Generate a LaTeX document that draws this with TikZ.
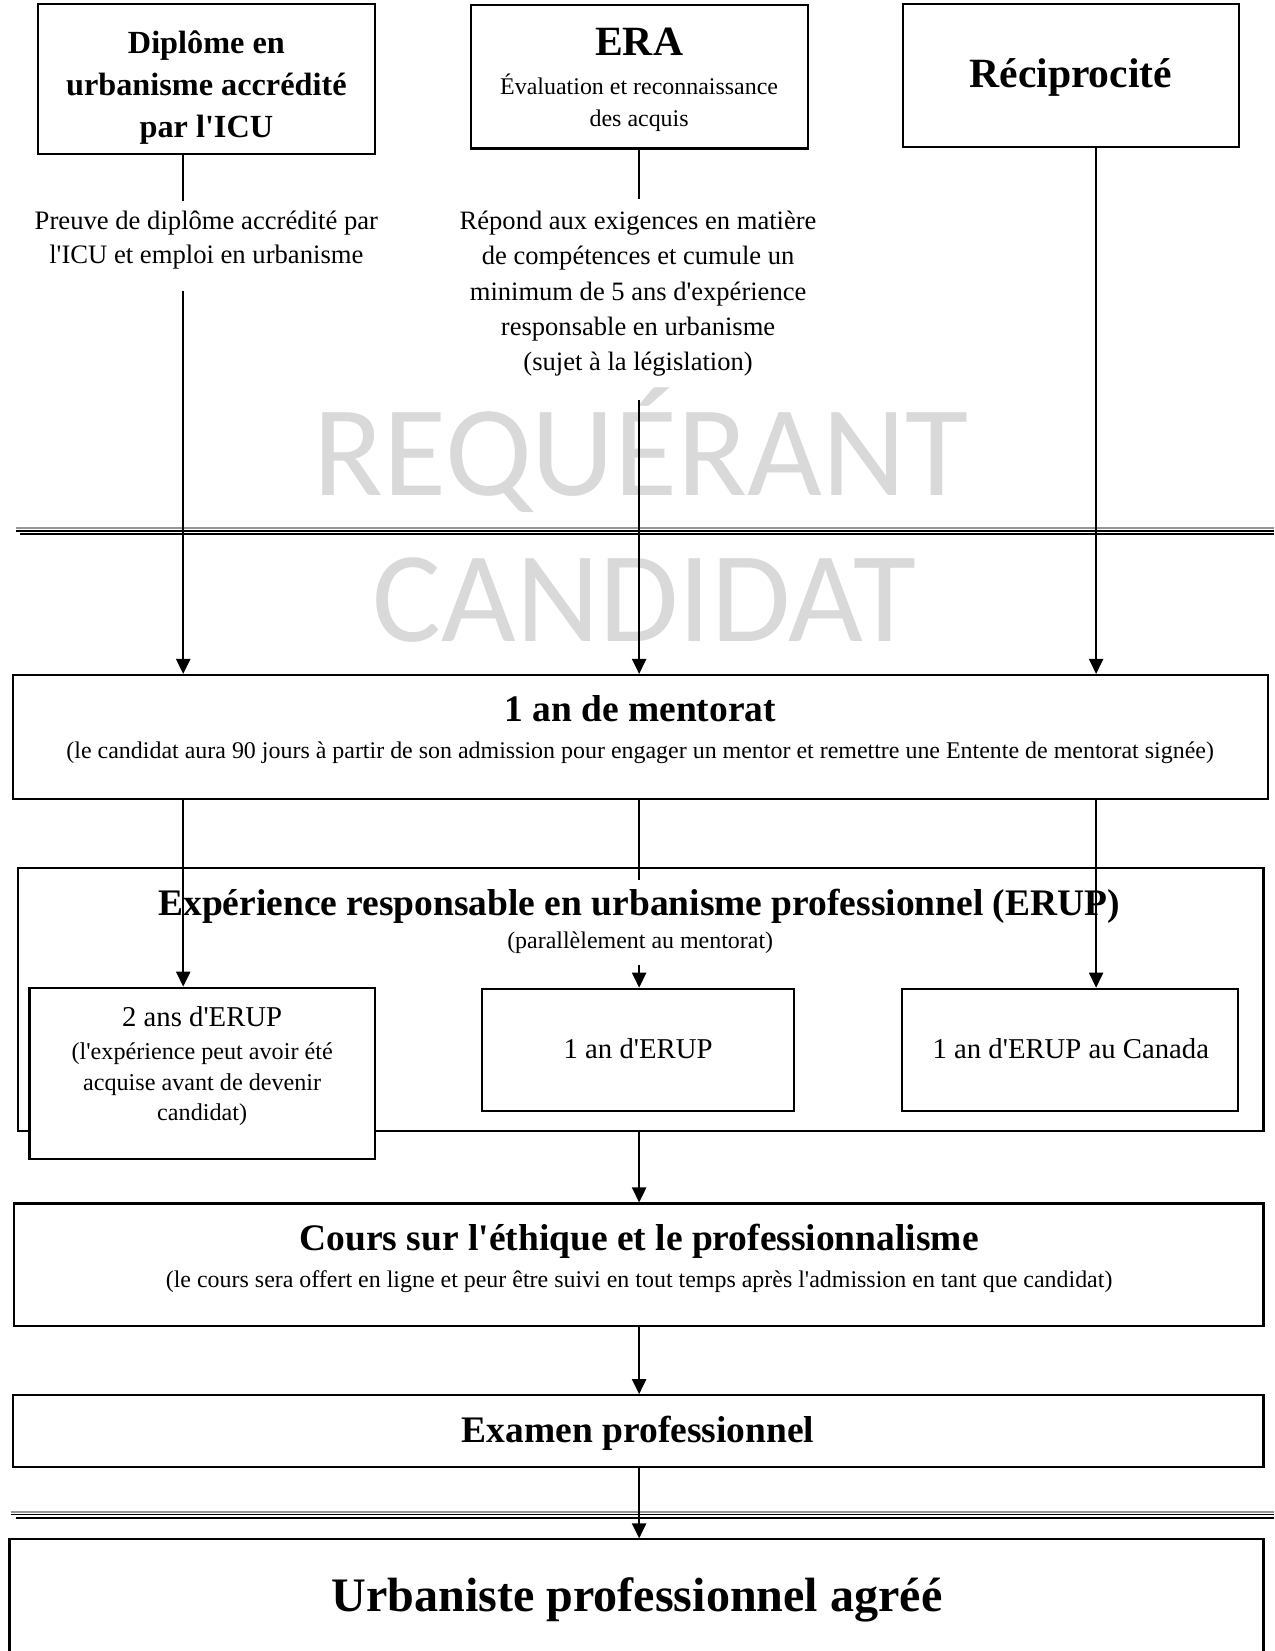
\documentclass[tikz,border=0pt]{standalone}
\usepackage{fontspec}
\setmainfont{Liberation Serif}[Ligatures=TeXOff]
\newfontfamily\wmfont{Carlito}
\usetikzlibrary{arrows.meta,fit}
\definecolor{wmgray}{RGB}{217,217,217}
\definecolor{sepgray}{RGB}{150,150,150}
\begin{document}
\begin{tikzpicture}[x=0.5058pt,y=-0.5058pt,
  box/.style={draw, line width=1pt, inner sep=0pt, fill=white},
  conn/.style={line width=0.9pt},
  arr/.style={conn, -{Triangle[length=7.2pt,width=6.8pt]}},
  txt/.style={inner sep=0pt, align=center},
  wm/.style={inner sep=0pt, anchor=base, text=wmgray, font=\wmfont\fontsize{62}{62}\selectfont},
  bigb/.style={txt, font=\fontsize{18}{21}\selectfont\bfseries},
  sub/.style={txt, font=\fontsize{11.5}{14}\selectfont},
]
\path[use as bounding box] (0,0) rectangle (1210,1568);
\clip (0,0) rectangle (1210,1568);
\fill[white] (0,0) rectangle (1210,1568);

% watermark
\node[wm] (wm1) at (609,471) {REQUÉRANT};
\node[wm] (wm2) at (612,609) {CANDIDAT};

% separators
\draw[sepgray, line width=1.1pt] (15,501.5) -- (1210,501.5);
\draw[line width=0.8pt] (15,504.3) -- (1210,504.3);
\draw[line width=0.8pt] (19,507.2) -- (1210,507.2);
\draw[sepgray, line width=1.1pt] (10,1436.3) -- (1210,1436.3);
\draw[line width=0.8pt] (10,1438.4) -- (1210,1438.4);
\draw[line width=0.8pt] (15,1441.6) -- (1210,1441.6);

% top boxes
\node[box, fit={(36,4)(356,146)}] (dip) {};
\node[txt, font=\fontsize{15.5}{20.2}\selectfont\bfseries] (diptxt) at (196,83) {Diplôme en\\urbanisme accrédité\\par l'ICU};
\node[box, fit={(447,5)(767,141)}] (era) {};
\node[txt, font=\fontsize{20}{22}\selectfont\bfseries] (eratitle) at (607,40) {ERA};
\node[txt, font=\fontsize{11.5}{15.2}\selectfont] (erasub) at (607,97.5) {Évaluation et reconnaissance\\des acquis};
\node[box, fit={(858,4)(1177,140)}] (rec) {};
\node[txt, font=\fontsize{20}{22}\selectfont\bfseries] (rectxt) at (1017,74) {Réciprocité};

% requirement texts
\node[txt, font=\fontsize{12.8}{16.2}\selectfont] (preuve) at (196,228) {Preuve de diplôme accrédité par\\l'ICU et emploi en urbanisme};
\node[txt, font=\fontsize{12.75}{17}\selectfont] (repond) at (606,279) {Répond aux exigences en matière\\de compétences et cumule un\\minimum de 5 ans d'expérience\\responsable en urbanisme\\(sujet à la législation)};

% mentorat
\node[box, fit={(12,641)(1204,759)}] (ment) {};
\node[bigb] (menttitle) at (608,673) {1 an de mentorat};
\node[txt, font=\fontsize{11.5}{14}\selectfont] (mentsub) at (608,715) {(le candidat aura 90 jours à partir de son admission pour engager un mentor et remettre une Entente de mentorat signée)};

% ERUP
\node[box, fit={(17,824)(1200,1074)}] (erup) {};
\node[bigb] (euptitle) at (607,861) {Expérience responsable en urbanisme professionnel (ERUP)};
\node[sub] (erupsub) at (608,895) {(parallèlement au mentorat)};
\node[box, fit={(28,938)(356,1101)}] (b1) {};
\node[txt, font=\fontsize{13.8}{16}\selectfont] (b1a) at (192,966) {2 ans d'ERUP};
\node[txt, font=\fontsize{11.6}{14.7}\selectfont] (b1b) at (192,1030) {(l'expérience peut avoir été\\acquise avant de devenir\\candidat)};
\node[box, fit={(458,939)(754,1055)}] (b2) {};
\node[txt, font=\fontsize{13.8}{16}\selectfont] (b2t) at (606,996) {1 an d'ERUP};
\node[box, fit={(857,939)(1176,1055)}] (b3) {};
\node[txt, font=\fontsize{13.8}{16}\selectfont] (b3t) at (1017,996) {1 an d'ERUP au Canada};

% cours
\node[box, fit={(13,1143)(1200,1259)}] (cours) {};
\node[bigb] (courstitle) at (607,1179) {Cours sur l'éthique et le professionnalisme};
\node[txt, font=\fontsize{11.5}{13}\selectfont] (courssub) at (607,1217) {(le cours sera offert en ligne et peur être suivi en tout temps après l'admission en tant que candidat)};

% examen
\node[box, fit={(12,1325)(1200,1393)}] (exam) {};
\node[bigb] (examtxt) at (606,1361) {Examen professionnel};

% final
\node[box, fit={(9,1462)(1200,1572)}] (final) {};
\node[txt, font=\fontsize{23.1}{26}\selectfont\bfseries] (finaltxt) at (605,1519) {Urbaniste professionnel agréé};

% connectors
\coordinate (colL) at (174,0);
\coordinate (colM) at (607,0);
\coordinate (colR) at (1041,0);
\coordinate (pL1) at (174,191);
\coordinate (pL2) at (174,276);
\coordinate (pM1) at (607,189);
\coordinate (pM2) at (607,380);
\coordinate (eM1) at (607,836);
\coordinate (eM2) at (607,916);

\draw[conn] (dip.south -| colL) -- (pL1);
\draw[arr] (pL2) -- (ment.north -| colL);
\draw[conn] (era.south -| colM) -- (pM1);
\draw[arr] (pM2) -- (ment.north -| colM);
\draw[arr] (rec.south -| colR) -- (ment.north -| colR);
\draw[conn] (ment.south -| colM) -- (eM1);
\draw[arr] (eM2) -- (b2.north -| colM);
\draw[arr] (ment.south -| colL) -- (b1.north -| colL);
\draw[arr] (ment.south -| colR) -- (b3.north -| colR);
\draw[arr] (erup.south -| colM) -- (cours.north -| colM);
\draw[arr] (cours.south -| colM) -- (exam.north -| colM);
\draw[arr] (exam.south -| colM) -- (final.north -| colM);
\end{tikzpicture}
\end{document}
